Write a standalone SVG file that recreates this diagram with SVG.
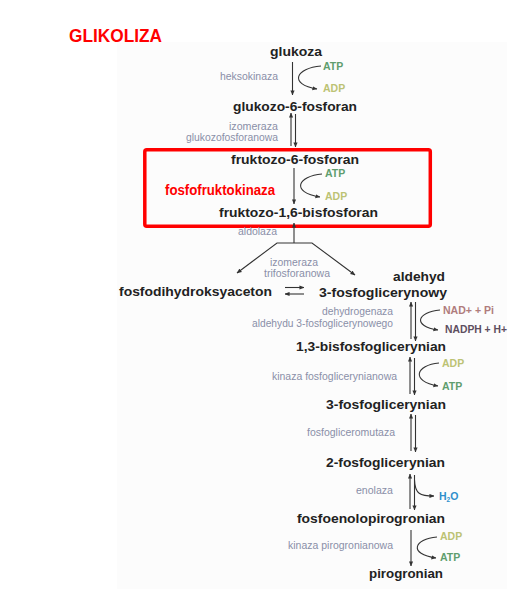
<svg xmlns="http://www.w3.org/2000/svg" width="523" height="589" viewBox="0 0 523 589">
<defs>
<style>
.n{font-family:"Liberation Sans",Arial,sans-serif;font-weight:bold;font-size:13px;fill:#222;}
.e{font-family:"Liberation Sans",Arial,sans-serif;font-size:10px;fill:#8a8fa8;}
.c{font-family:"Liberation Sans",Arial,sans-serif;font-weight:bold;font-size:10.5px;}
.atp{fill:#5f9e6e;}
.adp{fill:#bcc374;}
.ln{fill:none;stroke:#333;stroke-width:1.1;}
</style>
<marker id="ah" viewBox="0 0 6 6" refX="5.5" refY="3" markerWidth="5" markerHeight="5" orient="auto-start-reverse" markerUnits="userSpaceOnUse"><path d="M0,0.5 L6,3 L0,5.5 z" fill="#333"/></marker>
</defs>
<rect x="0" y="0" width="523" height="589" fill="#ffffff"/>
<rect x="117" y="42" width="390" height="547" fill="#fcfcfc"/>

<g id="title"><text x="69" y="42" font-family="'Liberation Sans',Arial,sans-serif" font-weight="bold" font-size="19" fill="#ff0000" textLength="93" lengthAdjust="spacingAndGlyphs">GLIKOLIZA</text></g>

<g id="highlight">
<rect x="144.8" y="149.7" width="285.5" height="76.6" rx="2" fill="none" stroke="#ff0000" stroke-width="3.5"/>
<text x="165" y="195" font-family="'Liberation Sans',Arial,sans-serif" font-weight="bold" font-size="14.5" fill="#ff0000" textLength="110" lengthAdjust="spacingAndGlyphs">fosfofruktokinaza</text>
</g>

<g id="connectors">
<line class="ln" x1="292.5" y1="62" x2="292.5" y2="95" marker-end="url(#ah)"/>
<path class="ln" d="M321,66 C296,68 288,84 317,89" marker-end="url(#ah)"/>
<line class="ln" x1="291" y1="146" x2="291" y2="113" marker-end="url(#ah)"/>
<line class="ln" x1="295.5" y1="114" x2="295.5" y2="147" marker-end="url(#ah)"/>
<line class="ln" x1="294" y1="168" x2="294" y2="204" marker-end="url(#ah)"/>
<path class="ln" d="M322,174 C298,176 290,192 320,197" marker-end="url(#ah)"/>
<line class="ln" x1="294" y1="243" x2="294" y2="223" marker-end="url(#ah)"/>
<path class="ln" d="M237,273 L277,243 L312,243 L355,275" marker-start="url(#ah)" marker-end="url(#ah)"/>
<line class="ln" x1="285" y1="287.5" x2="304" y2="287.5" marker-end="url(#ah)"/>
<line class="ln" x1="304" y1="294" x2="285" y2="294" marker-end="url(#ah)"/>
<line class="ln" x1="411" y1="339" x2="411" y2="302" marker-end="url(#ah)"/>
<line class="ln" x1="415.5" y1="302" x2="415.5" y2="341" marker-end="url(#ah)"/>
<path class="ln" d="M440,310 C417,312 412,326 438,330" marker-end="url(#ah)"/>
<line class="ln" x1="410" y1="394" x2="410" y2="357" marker-end="url(#ah)"/>
<line class="ln" x1="414.5" y1="358" x2="414.5" y2="395" marker-end="url(#ah)"/>
<path class="ln" d="M439,363 C416,365 410,381 438,386" marker-end="url(#ah)"/>
<line class="ln" x1="411" y1="451" x2="411" y2="414" marker-end="url(#ah)"/>
<line class="ln" x1="415.5" y1="415" x2="415.5" y2="452" marker-end="url(#ah)"/>
<line class="ln" x1="410" y1="509" x2="410" y2="474" marker-end="url(#ah)"/>
<line class="ln" x1="414.5" y1="475" x2="414.5" y2="510" marker-end="url(#ah)"/>
<path class="ln" d="M414.5,480 C415,494 420,496 434,496" marker-end="url(#ah)"/>
<line class="ln" x1="411" y1="530" x2="411" y2="566" marker-end="url(#ah)"/>
<path class="ln" d="M437,537 C414,539 408,554 436,558" marker-end="url(#ah)"/>
</g>

<g id="glukoza"><text class="n" x="270" y="56" textLength="52" lengthAdjust="spacingAndGlyphs">glukoza</text></g>
<g id="g6p"><text class="n" x="233" y="111" textLength="124" lengthAdjust="spacingAndGlyphs">glukozo-6-fosforan</text></g>
<g id="f6p"><text class="n" x="231" y="164" textLength="128" lengthAdjust="spacingAndGlyphs">fruktozo-6-fosforan</text></g>
<g id="f16bp"><text class="n" x="219" y="217" textLength="159" lengthAdjust="spacingAndGlyphs">fruktozo-1,6-bisfosforan</text></g>
<g id="dhap"><text class="n" x="119" y="296" textLength="153" lengthAdjust="spacingAndGlyphs">fosfodihydroksyaceton</text></g>
<g id="g3p">
<text class="n" x="393" y="281" textLength="52" lengthAdjust="spacingAndGlyphs">aldehyd</text>
<text class="n" x="319" y="297" textLength="128" lengthAdjust="spacingAndGlyphs">3-fosfoglicerynowy</text>
</g>
<g id="bpg"><text class="n" x="296" y="351" textLength="150" lengthAdjust="spacingAndGlyphs">1,3-bisfosfoglicerynian</text></g>
<g id="pg3"><text class="n" x="326" y="409" textLength="120" lengthAdjust="spacingAndGlyphs">3-fosfoglicerynian</text></g>
<g id="pg2"><text class="n" x="326" y="467" textLength="119" lengthAdjust="spacingAndGlyphs">2-fosfoglicerynian</text></g>
<g id="pep"><text class="n" x="297" y="523" textLength="148" lengthAdjust="spacingAndGlyphs">fosfoenolopirogronian</text></g>
<g id="pyr"><text class="n" x="369" y="578" textLength="74" lengthAdjust="spacingAndGlyphs">pirogronian</text></g>

<g id="enzymes">
<text class="e" x="220" y="80" textLength="58" lengthAdjust="spacingAndGlyphs">heksokinaza</text>
<text class="e" x="229" y="130" textLength="49" lengthAdjust="spacingAndGlyphs">izomeraza</text>
<text class="e" x="186" y="141" textLength="92" lengthAdjust="spacingAndGlyphs">glukozofosforanowa</text>
<text class="e" x="238" y="235" textLength="39" lengthAdjust="spacingAndGlyphs">aldolaza</text>
<text class="e" x="270" y="266" textLength="48" lengthAdjust="spacingAndGlyphs">izomeraza</text>
<text class="e" x="264" y="277" textLength="66" lengthAdjust="spacingAndGlyphs">trifosforanowa</text>
<text class="e" x="322" y="315" textLength="71" lengthAdjust="spacingAndGlyphs">dehydrogenaza</text>
<text class="e" x="252" y="327" textLength="141" lengthAdjust="spacingAndGlyphs">aldehydu 3-fosfoglicerynowego</text>
<text class="e" x="272" y="380" textLength="125" lengthAdjust="spacingAndGlyphs">kinaza fosfoglicerynianowa</text>
<text class="e" x="307" y="436" textLength="88" lengthAdjust="spacingAndGlyphs">fosfogliceromutaza</text>
<text class="e" x="356" y="494" textLength="37" lengthAdjust="spacingAndGlyphs">enolaza</text>
<text class="e" x="288" y="549" textLength="105" lengthAdjust="spacingAndGlyphs">kinaza pirogronianowa</text>
</g>

<g id="cofactors">
<text class="c atp" x="323" y="70">ATP</text>
<text class="c adp" x="323" y="92">ADP</text>
<text class="c atp" x="325" y="177">ATP</text>
<text class="c adp" x="325" y="200">ADP</text>
<text class="c" x="443" y="314" fill="#b07c7c" textLength="51" lengthAdjust="spacingAndGlyphs">NAD+ + Pi</text>
<text class="c" x="445" y="333" fill="#5e4e60" textLength="62" lengthAdjust="spacingAndGlyphs">NADPH + H+</text>
<text class="c adp" x="442" y="367">ADP</text>
<text class="c atp" x="442" y="390">ATP</text>
<text class="c" x="439" y="500" fill="#2e8fcc">H<tspan font-size="6.5" dy="1.5">2</tspan><tspan dy="-1.5">O</tspan></text>
<text class="c adp" x="440" y="540">ADP</text>
<text class="c atp" x="440" y="561">ATP</text>
</g>
</svg>
